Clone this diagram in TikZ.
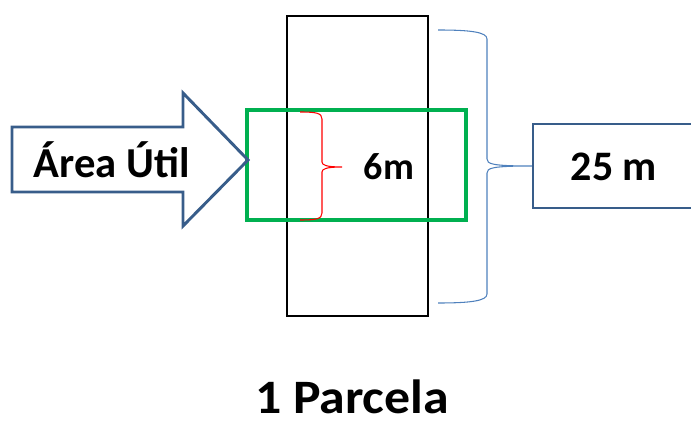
\documentclass[tikz,border=0pt]{standalone}
\usepackage{fontspec}
\setmainfont{Carlito}
\definecolor{slateblue}{HTML}{385D8A}
\definecolor{lightblue}{HTML}{4F81BD}
\definecolor{plotgreen}{HTML}{00B050}

\begin{document}
\begin{tikzpicture}[x=0.75pt,y=0.75pt,every node/.style={font=\bfseries\fontsize{31.5}{36}\selectfont,inner sep=0pt}]
\useasboundingbox (0,0) rectangle (691,421);
% parcela
\draw[black,line width=0.8pt] (287,105) rectangle (428,405);
\draw[plotgreen,line width=3pt] (247,201) rectangle (466,311);
% area util arrow
\draw[slateblue,line width=2.2pt,line join=miter] (12,229) -- (12,294) -- (183,294) -- (183,328)
  -- (248,261) -- (183,195) -- (183,229) -- cycle;
\node[font=\bfseries\fontsize{32}{36}\selectfont] (area) at (112,261) {Área Útil};
% 6m brace
\coordinate (rtop) at (300,309);
\coordinate (rbot) at (300,201);
\coordinate (rtip) at (342,254);
\draw[red,line width=0.8pt] (rtop) .. controls (316,309) and (322,308) .. (322,302) -- (322,259)
  .. controls (322,256) and (326,254) .. (rtip)
  (rbot) .. controls (316,201) and (322,202) .. (322,208) -- (322,249)
  .. controls (322,252) and (326,254) .. (rtip);
\node[font=\bfseries\fontsize{28.5}{32}\selectfont] (six) at (389,254) {6m};
% 25 m brace and box
\coordinate (btop) at (438,391);
\coordinate (bbot) at (438,118);
\coordinate (btip) at (532,255);
\draw[lightblue,line width=0.8pt] (btop) .. controls (470,391) and (487,389) .. (487,382) -- (487,262)
  .. controls (487,257) and (492,255) .. (btip)
  (bbot) .. controls (470,118) and (487,120) .. (487,127) -- (487,248)
  .. controls (487,253) and (492,255) .. (btip);
\draw[slateblue,line width=2.2pt] (533,213) rectangle (700,297);
\node (len) at (614,254) {25 m};
% title
\node[font=\bfseries\fontsize{36}{40}\selectfont,xscale=1.08] (title) at (352,24) {1 Parcela};
\end{tikzpicture}
\end{document}
